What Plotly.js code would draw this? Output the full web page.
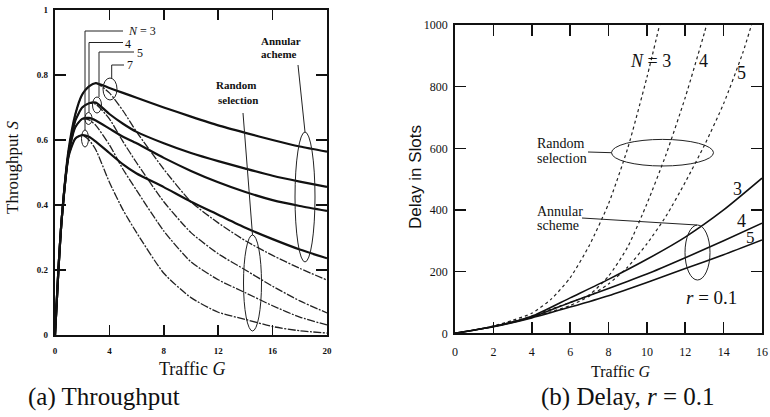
<!DOCTYPE html>
<html><head><meta charset="utf-8">
<script src="https://cdn.plot.ly/plotly-3.0.1.min.js"></script>
<style>html,body{margin:0;padding:0;background:#fff}#chart{width:770px;height:417px}</style>
</head><body><div id="chart"></div>
<script>
// ---------- (a) Throughput data ----------
const trafficA = [0, 0.25, 0.5, 1, 1.5, 2, 2.5, 3, 4, 5, 6, 8, 10, 12, 14, 16, 18, 20];
const annularN7 = [0, 0.2, 0.36, 0.57, 0.68, 0.74, 0.765, 0.775, 0.76, 0.745, 0.73, 0.70, 0.672, 0.645, 0.622, 0.60, 0.58, 0.564];
const annularN5 = [0, 0.2, 0.36, 0.56, 0.66, 0.70, 0.713, 0.715, 0.68, 0.65, 0.625, 0.59, 0.56, 0.535, 0.512, 0.49, 0.472, 0.456];
const annularN4 = [0, 0.2, 0.36, 0.555, 0.64, 0.665, 0.668, 0.66, 0.635, 0.61, 0.59, 0.545, 0.505, 0.47, 0.44, 0.415, 0.397, 0.382];
const annularN3 = [0, 0.2, 0.36, 0.55, 0.605, 0.615, 0.61, 0.595, 0.56, 0.525, 0.497, 0.455, 0.41, 0.37, 0.33, 0.295, 0.263, 0.236];
const randomN7 = [0, 0.2, 0.36, 0.57, 0.68, 0.74, 0.765, 0.775, 0.745, 0.69, 0.625, 0.51, 0.41, 0.345, 0.29, 0.245, 0.205, 0.169];
const randomN5 = [0, 0.2, 0.36, 0.56, 0.66, 0.70, 0.713, 0.71, 0.665, 0.595, 0.53, 0.41, 0.315, 0.25, 0.2, 0.15, 0.105, 0.068];
const randomN4 = [0, 0.2, 0.36, 0.555, 0.64, 0.665, 0.662, 0.645, 0.585, 0.51, 0.445, 0.32, 0.225, 0.17, 0.13, 0.09, 0.055, 0.031];
const randomN3 = [0, 0.2, 0.36, 0.55, 0.605, 0.615, 0.6, 0.57, 0.47, 0.385, 0.315, 0.19, 0.115, 0.07, 0.048, 0.026, 0.013, 0.006];
const xTicksA = [0, 4, 8, 12, 16, 20];
const yTicksA = [0, 0.2, 0.4, 0.6, 0.8, 1];
const yTickTextA = ['0', '0.2', '0.4', '0.6', '0.8', '1'];

// ---------- (b) Delay data ----------
const trafficRnd3 = [0, 1, 2, 3, 4, 5, 6, 7, 8, 9, 10, 10.7];
const delayRnd3 = [0, 10, 24, 42, 65, 110, 180, 285, 420, 600, 830, 1010];
const trafficRnd4 = [0, 1, 2, 3, 4, 5, 6, 7, 8, 9, 10, 11, 12, 13, 13.2];
const delayRnd4 = [0, 10, 23, 38, 56, 78, 100, 125, 185, 280, 420, 580, 765, 975, 1020];
const trafficRnd5 = [0, 1, 2, 3, 4, 5, 6, 7, 8, 9, 10, 11, 12, 13, 14, 15, 15.5];
const delayRnd5 = [0, 10, 22, 36, 52, 70, 90, 120, 160, 215, 290, 380, 490, 610, 745, 910, 1010];
const trafficAnn = [0, 2, 4, 6, 8, 10, 12, 14, 16];
const delayAnn3 = [0, 22, 55, 115, 175, 240, 312, 400, 503];
const delayAnn4 = [0, 22, 52, 100, 145, 192, 245, 300, 357];
const delayAnn5 = [0, 21, 50, 85, 122, 165, 210, 255, 303];
const xTicksB = [0, 2, 4, 6, 8, 10, 12, 14, 16];
const yTicksB = [0, 200, 400, 600, 800, 1000];

const W = 770, H = 417;
const px = v => v / W, py = v => 1 - v / H;

function annLine(x, y, xa, ya) {
  return {x: x, y: y, xaxis: xa, yaxis: ya, type: 'scatter', mode: 'lines',
    line: {color: '#111', width: 2.2, shape: 'spline', smoothing: 0.6}, hoverinfo: 'skip'};
}
function rndLineA(x, y) {
  return {x: x, y: y, xaxis: 'x', yaxis: 'y', type: 'scatter', mode: 'lines',
    line: {color: '#222', width: 1.3, shape: 'spline', smoothing: 0.6, dash: '8px,1.5px,2px,1.5px'}, hoverinfo: 'skip'};
}
function rndLineB(x, y) {
  return {x: x, y: y, xaxis: 'x2', yaxis: 'y2', type: 'scatter', mode: 'lines', cliponaxis: true,
    line: {color: '#222', width: 1.2, shape: 'spline', smoothing: 0.6, dash: 'dot'}, hoverinfo: 'skip'};
}
function solidB(x, y) {
  return {x: x, y: y, xaxis: 'x2', yaxis: 'y2', type: 'scatter', mode: 'lines',
    line: {color: '#111', width: 1.6, shape: 'spline', smoothing: 0.6}, hoverinfo: 'skip'};
}

const data = [
  rndLineA(trafficA, randomN7), rndLineA(trafficA, randomN5), rndLineA(trafficA, randomN4), rndLineA(trafficA, randomN3),
  annLine(trafficA, annularN7, 'x', 'y'), annLine(trafficA, annularN5, 'x', 'y'),
  annLine(trafficA, annularN4, 'x', 'y'), annLine(trafficA, annularN3, 'x', 'y'),
  rndLineB(trafficRnd3, delayRnd3), rndLineB(trafficRnd4, delayRnd4), rndLineB(trafficRnd5, delayRnd5),
  solidB(trafficAnn, delayAnn3), solidB(trafficAnn, delayAnn4), solidB(trafficAnn, delayAnn5)
];

const serif = 'Liberation Serif, Times New Roman, serif';
function T(text, x, y, size, opts) {
  return Object.assign({text: text, x: px(x), y: py(y), xref: 'paper', yref: 'paper', showarrow: false,
    xanchor: 'center', yanchor: 'middle', font: {family: serif, size: size, color: '#111'}}, opts || {});
}
function ell(cx, cy, rx, ry) {
  return {type: 'circle', xref: 'paper', yref: 'paper', x0: px(cx - rx), x1: px(cx + rx),
    y0: py(cy + ry), y1: py(cy - ry), line: {color: '#222', width: 1}};
}
function seg(x0, y0, x1, y1) {
  return {type: 'line', xref: 'paper', yref: 'paper', x0: px(x0), y0: py(y0), x1: px(x1), y1: py(y1),
    line: {color: '#222', width: 1}};
}

const axisCommon = {showgrid: false, zeroline: false, showline: true, linecolor: '#111', mirror: 'ticks',
  ticks: 'inside', tickcolor: '#111', fixedrange: true};

const layout = {
  width: W, height: H, margin: {l: 0, r: 0, t: 0, b: 0}, paper_bgcolor: '#fff', plot_bgcolor: '#fff',
  showlegend: false,
  xaxis: Object.assign({}, axisCommon, {domain: [px(55), px(327)], range: [0, 20], tickvals: xTicksA,
    ticklen: 10, tickwidth: 1.6, linewidth: 2.2, anchor: 'y', ticklabelstandoff: 6,
    tickfont: {family: serif, size: 9, color: '#111', weight: 'bold'}}),
  yaxis: Object.assign({}, axisCommon, {domain: [1 - 335 / H, 1 - 10 / H], range: [0, 1], tickvals: yTicksA,
    ticktext: yTickTextA, ticklen: 11, tickwidth: 1.6, linewidth: 2.2, anchor: 'x', ticklabelstandoff: 3,
    tickfont: {family: serif, size: 9, color: '#111', weight: 'bold'}}),
  xaxis2: Object.assign({}, axisCommon, {domain: [px(455), px(762)], range: [0, 16], tickvals: xTicksB,
    ticklen: 11, tickwidth: 1.6, linewidth: 1.8, anchor: 'y2', ticklabelstandoff: 6,
    tickfont: {family: serif, size: 12, color: '#111'}}),
  yaxis2: Object.assign({}, axisCommon, {domain: [1 - 333.3 / H, 1 - 25 / H], range: [0, 1000], tickvals: yTicksB,
    ticklen: 11, tickwidth: 1.6, linewidth: 1.8, anchor: 'x2', ticklabelstandoff: 3,
    tickfont: {family: serif, size: 12, color: '#111'}}),
  annotations: [
    // (a)
    T('<i>N</i> = 3', 142, 31, 12),
    T('4', 128, 44, 12), T('5', 139.5, 53, 12), T('7', 129.5, 65, 12),
    T('<b>Annular</b>', 280.5, 41, 11), T('<b>acheme</b>', 279, 54.5, 11),
    T('<b>Random</b>', 236, 85, 11), T('<b>selection</b>', 237.5, 100, 11),
    T('Throughput <i>S</i>', 13, 167, 17, {textangle: -90}),
    T('Traffic <i>G</i>', 192.5, 369, 18),
    T('(a) Throughput', 104, 397, 25),
    // (b)
    T('<i>N</i> = 3', 650, 61, 18), T('4', 703, 61, 18), T('5', 741, 73, 18),
    T('3', 737, 189, 18), T('4', 741, 221, 18), T('5', 750, 237, 17),
    T('Random', 535, 143, 14, {xanchor: 'left'}), T('selection', 535, 158, 14, {xanchor: 'left'}),
    T('Annular', 535, 212, 14, {xanchor: 'left'}), T('scheme', 535, 226, 14, {xanchor: 'left'}),
    T('<i>r</i> = 0.1', 711, 297, 19),
    T('Delay in Slots', 415, 177, 17, {textangle: -90, font: {family: 'Liberation Sans, Arial, sans-serif', size: 17, color: '#111'}}),
    T('Traffic <i>G</i>', 621, 371, 16),
    T('(b) Delay, <i>r</i> = 0.1', 628, 397, 25)
  ],
  shapes: [
    // (a) leaders and ellipses
    seg(85, 31, 123, 31), seg(85, 31, 85, 130),
    seg(89, 42.5, 123, 42.5), seg(89, 42.5, 89, 112.5),
    seg(99, 52, 134, 52), seg(99, 52, 99, 97),
    seg(111.7, 65, 124, 65), seg(111.7, 65, 111.7, 78),
    ell(110, 89, 7, 11), ell(97, 105, 4.5, 8), ell(88.5, 118.5, 3.5, 6), ell(85, 138.5, 3.5, 8.5),
    ell(305, 197, 10, 65), seg(298, 65, 305, 132),
    ell(252.5, 283, 9, 48), seg(243, 113, 252.5, 235),
    // (b)
    ell(662.5, 152.7, 51, 13.3), seg(588, 152, 611.5, 152.7),
    ell(697.5, 252.5, 12.5, 27.5), seg(582, 218, 697, 225)
  ]
};

Plotly.newPlot('chart', data, layout, {staticPlot: true, displayModeBar: false});
</script></body></html>
